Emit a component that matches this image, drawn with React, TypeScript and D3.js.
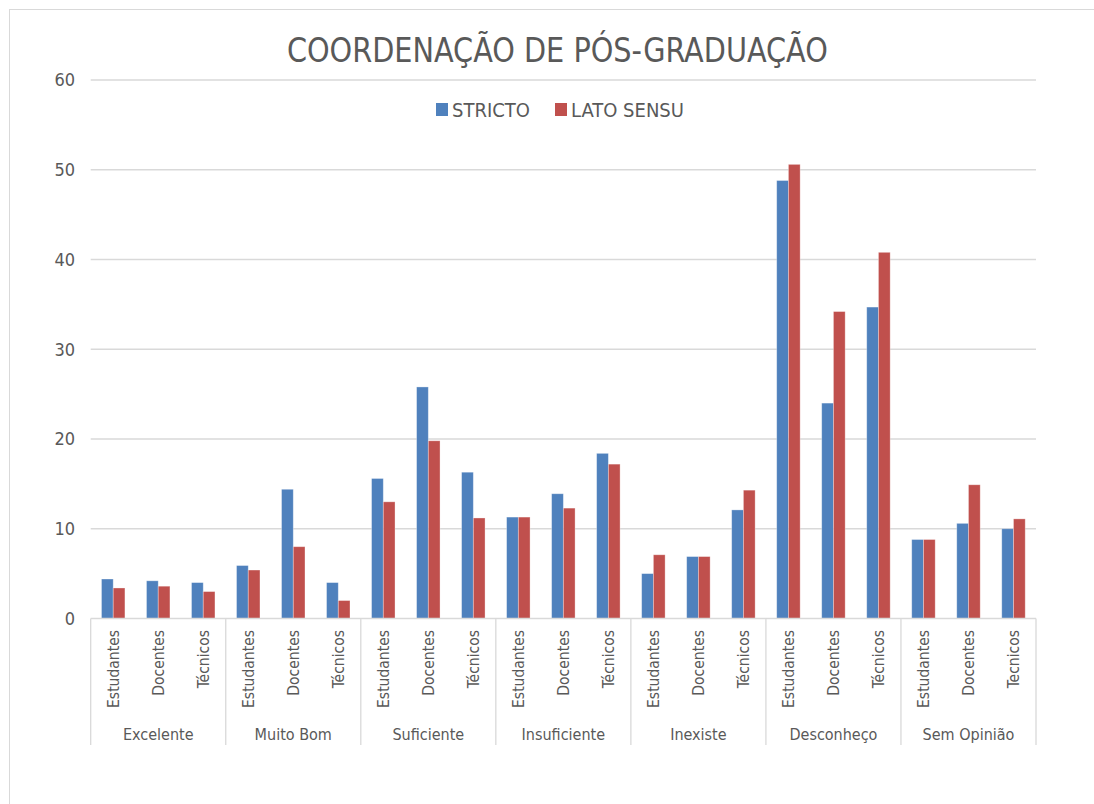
import React from "react";
import * as d3 from "d3";

const groups = ["Excelente", "Muito Bom", "Suficiente", "Insuficiente", "Inexiste", "Desconheço", "Sem Opinião"];
const subLabels = [
  ["Estudantes", "Docentes", "Técnicos"],
  ["Estudantes", "Docentes", "Técnicos"],
  ["Estudantes", "Docentes", "Técnicos"],
  ["Estudantes", "Docentes", "Técnicos"],
  ["Estudantes", "Docentes", "Técnicos"],
  ["Estudantes", "Docentes", "Técnicos"],
  ["Estudantes", "Docentes", "Tecnicos"],
];
const seriesNames = ["STRICTO", "LATO SENSU"];
const stricto = [4.4, 4.2, 4.0, 5.9, 14.4, 4.0, 15.6, 25.8, 16.3, 11.3, 13.9, 18.4, 5.0, 6.9, 12.1, 48.8, 24.0, 34.7, 8.8, 10.6, 10.0];
const latoSensu = [3.4, 3.6, 3.0, 5.4, 8.0, 2.0, 13.0, 19.8, 11.2, 11.3, 12.3, 17.2, 7.1, 6.9, 14.3, 50.6, 34.2, 40.8, 8.8, 14.9, 11.1];
const yTicks = [0, 10, 20, 30, 40, 50, 60];

const colors = ["#4F81BD", "#C0504D"];
const textColor = "#595959";
const gridColor = "#D9D9D9";
const font = "'DejaVu Sans Condensed', 'Liberation Sans', sans-serif";

export default function App() {
  const width = 1094;
  const height = 804;
  const left = 90.7;
  const right = 1036;
  const top = 80;
  const bottom = 618.5;

  const x0 = d3.scaleBand<number>().domain(d3.range(groups.length)).range([left, right]).padding(0);
  const x1 = d3.scaleBand<number>().domain([0, 1, 2]).range([0, x0.bandwidth()]).padding(0);
  const x2 = d3.scaleBand<string>().domain(seriesNames).range([0, x1.bandwidth()]).paddingInner(0).paddingOuter(0.92);
  const y = d3.scaleLinear().domain([0, 60]).range([bottom, top]);

  const values = [stricto, latoSensu];

  return (
    <svg width={width} height={height} style={{ position: "absolute", left: 0, top: 0, background: "#fff" }} fontFamily={font}>
      <rect x={9.5} y={9.5} width={width + 10} height={height + 10} fill="#fff" stroke={gridColor} />
      <text transform={`translate(${(left + right) / 2 - 6},62) scale(0.94,1)`} textAnchor="middle" fontSize={34} fill={textColor}>
        COORDENAÇÃO DE PÓS-GRADUAÇÃO
      </text>
      {/* gridlines */}
      {yTicks.map((t) => (
        <g key={t}>
          {t > 0 && <line x1={left} x2={right} y1={y(t)} y2={y(t)} stroke={gridColor} strokeWidth={1.3} />}
          <text x={75} y={y(t)} dy="0.35em" textAnchor="end" fontSize={18} fill={textColor}>
            {t}
          </text>
        </g>
      ))}
      {/* legend */}
      <g fontSize={20} fill={textColor}>
        <rect x={436} y={103} width={12} height={13} fill={colors[0]} />
        <text x={452} y={117}>{seriesNames[0]}</text>
        <rect x={555} y={103} width={12} height={13} fill={colors[1]} />
        <text x={571} y={117}>{seriesNames[1]}</text>
      </g>
      {/* bars */}
      {groups.map((g, gi) => (
        <g key={g} transform={`translate(${x0(gi)},0)`}>
          {[0, 1, 2].map((si) => {
            const idx = gi * 3 + si;
            return (
              <g key={si} transform={`translate(${x1(si)},0)`}>
                {seriesNames.map((s, k) => (
                  <rect
                    key={s}
                    x={x2(s)}
                    y={y(values[k][idx])}
                    width={x2.bandwidth()}
                    height={y(0) - y(values[k][idx])}
                    fill={colors[k]}
                    stroke="#fff"
                    strokeOpacity={0.4}
                    strokeWidth={0.8}
                  />
                ))}
                <text
                  transform={`translate(${x1.bandwidth() / 2},630) rotate(-90)`}
                  textAnchor="end"
                  dy="0.35em"
                  fontSize={15.5}
                  fill={textColor}
                >
                  {subLabels[gi][si]}
                </text>
              </g>
            );
          })}
          <text x={x0.bandwidth() / 2} y={740} textAnchor="middle" fontSize={16} fill={textColor}>
            {g}
          </text>
        </g>
      ))}
      {/* axis */}
      <line x1={left} x2={right} y1={bottom} y2={bottom} stroke={gridColor} strokeWidth={1.5} />
      {d3.range(groups.length + 1).map((i) => {
        const xx = i < groups.length ? (x0(i) as number) : right;
        return <line key={i} x1={xx} x2={xx} y1={bottom} y2={745} stroke={gridColor} strokeWidth={1.3} />;
      })}
    </svg>
  );
}
